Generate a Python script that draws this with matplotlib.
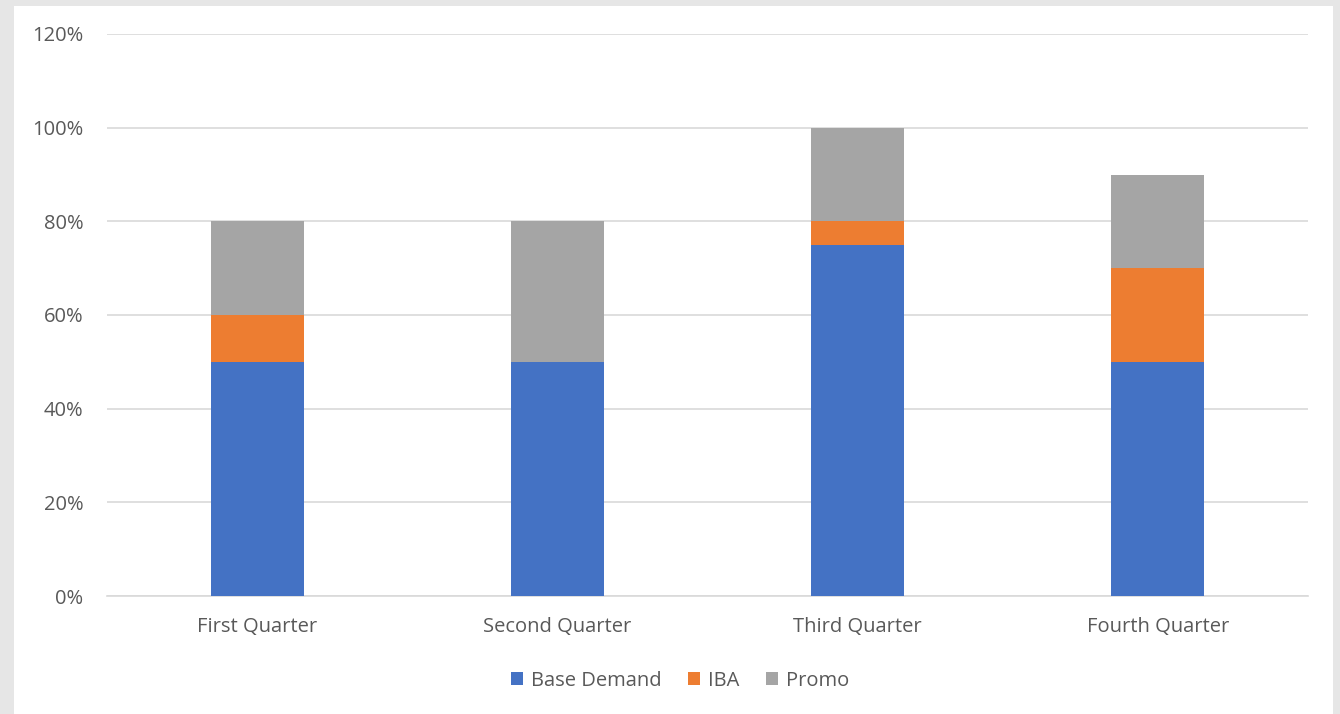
import matplotlib
matplotlib.use("Agg")
import matplotlib.pyplot as plt
import numpy as np
from matplotlib.patches import Rectangle
from matplotlib.ticker import FuncFormatter

quarters = ["First Quarter", "Second Quarter", "Third Quarter", "Fourth Quarter"]
base_demand = [0.50, 0.50, 0.75, 0.50]
iba = [0.10, 0.00, 0.05, 0.20]
promo = [0.20, 0.30, 0.20, 0.20]

series = [("Base Demand", base_demand, "#4472C4"),
          ("IBA", iba, "#ED7D31"),
          ("Promo", promo, "#A5A5A5")]

plt.rcParams["font.family"] = ["Open Sans", "DejaVu Sans"]

fig = plt.figure(figsize=(13.4, 7.14), dpi=100)
fig.patch.set_facecolor("#e6e6e6")
# white chart area inside the grey frame
fig.add_artist(Rectangle((14 / 1340, 0), 1319 / 1340, 1 - 6 / 714,
                         transform=fig.transFigure, facecolor="white",
                         edgecolor="none", zorder=-10))

ax = fig.add_axes([107 / 1340, 1 - 596 / 714, 1201 / 1340, 562 / 714])
ax.set_facecolor("none")

x = np.arange(len(quarters))
bottom = np.zeros(len(quarters))
for name, vals, col in series:
    ax.bar(x, vals, 0.31, bottom=bottom, color=col, label=name, zorder=3)
    bottom += np.array(vals)

ax.set_xlim(-0.5, len(quarters) - 0.5)
ax.set_ylim(0, 1.2)
ax.set_yticks(np.arange(0, 1.21, 0.2))
ax.yaxis.set_major_formatter(FuncFormatter(lambda v, p: f"{v * 100:.0f}%"))
ax.set_xticks(x)
ax.set_xticklabels(quarters)
ax.grid(axis="y", color="#d9d9d9", linewidth=1.2, zorder=0)
for s in ["top", "right", "left"]:
    ax.spines[s].set_visible(False)
ax.spines["bottom"].set_color("#d9d9d9")
ax.spines["bottom"].set_linewidth(1.2)
ax.tick_params(axis="both", length=0, colors="#595959", labelsize=14.5)
ax.tick_params(axis="y", pad=17)
ax.tick_params(axis="x", pad=15)

ax.legend(loc="center", bbox_to_anchor=(0.477, -0.151), ncol=3, frameon=False,
          fontsize=14.5, handlelength=0.6, handleheight=0.6, handletextpad=0.4,
          columnspacing=1.3, labelcolor="#595959")

fig.savefig("out.png", dpi=100, facecolor=fig.get_facecolor())
